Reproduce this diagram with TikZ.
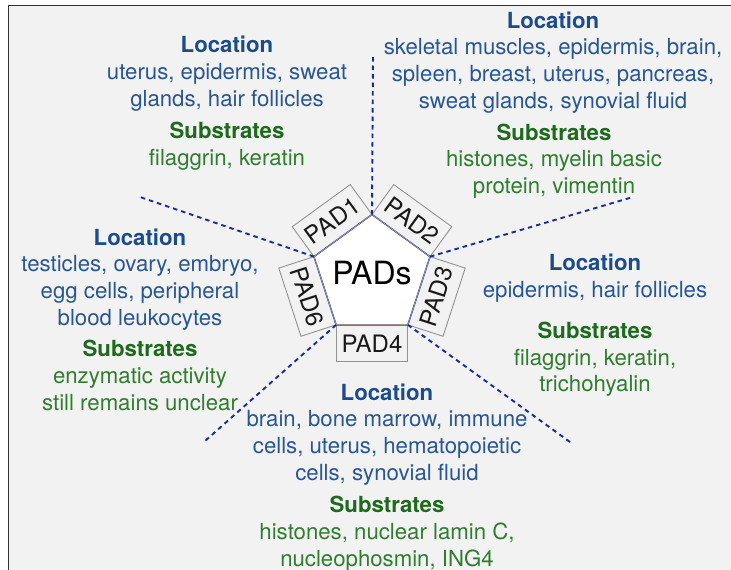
\documentclass[tikz,border=0pt]{standalone}
\usepackage{fontspec}
\setmainfont{TeX Gyre Heros}
\usetikzlibrary{calc}

\definecolor{locblue}{HTML}{285692}
\definecolor{lochead}{HTML}{1B4B8B}
\definecolor{subgreen}{HTML}{2F7D2F}
\definecolor{subhead}{HTML}{1D6A1D}
\definecolor{padblue}{HTML}{1F30A0}
\definecolor{dashblue}{HTML}{1A2A9C}
\definecolor{panelgray}{HTML}{F2F2F2}

\begin{document}
\begin{tikzpicture}[x=1pt, y=-1pt,
        txt/.style = {align=center, inner sep=0pt, anchor=base, font=\fontsize{22.2}{26.6}\selectfont}, % base = last line
        loc/.style = {txt, text=locblue},
        sub/.style = {txt, text=subgreen},
        padbox/.style = {rectangle, draw=gray!85, line width=0.9pt, minimum width=71.7pt, minimum height=37pt, inner sep=0pt, font=\fontsize{24}{24}\selectfont, text=black!90},
        spoke/.style = {draw=dashblue, line width=1.9pt, dash pattern=on 4.5pt off 4pt} % short dashes
    ]
        % Panel
        \useasboundingbox (0,0) rectangle (731,570);
        \fill [panelgray] (8.5,5.5) rectangle (731,570);
        \draw [black!80, line width=1.5pt] (8.5,570) -- (8.5,5.5) -- (731,5.5);

        % Centre pentagon
        \coordinate (c) at (372,275.5);
        \foreach \a [count=\i] in {-90,-162,126,54,-18}
            \coordinate (v\i) at ($(c)+(\a:61)$);
        \draw [padblue, line width=1.4pt, fill=white] (v1) -- (v2) -- (v3) -- (v4) -- (v5) -- cycle;
        \node [font=\fontsize{32}{32}\selectfont, inner sep=0pt] (pads) at ($(c)+(0,-2)$) {PADs};

        % Boxes on the sides
        \node [padbox, rotate=36] (pad1) at ($(c)+(-126:67.85)$) {PAD1};
        \node [padbox, rotate=-72] (pad6) at ($(c)+(162:67.85)$) {PAD6};
        \node [padbox] (pad4) at ($(c)+(90:67.85)$) {PAD4};
        \node [padbox, rotate=72] (pad3) at ($(c)+(18:67.85)$) {PAD3};
        \node [padbox, rotate=-36] (pad2) at ($(c)+(-54:67.85)$) {PAD2};

        % Spoke ends
        \coordinate (tip1) at (373,55);
        \coordinate (tip2) at (140,197);
        \coordinate (tip3) at (205,441);
        \coordinate (tip4) at (570,442);
        \coordinate (tip5) at (633,197);

        % Spokes
        \foreach \i in {1,...,5}
            \draw [spoke] (v\i) -- (tip\i);

        % Texts
        \node [loc] (loc1) at (227,106) {\textcolor{lochead}{\bfseries Location}\\uterus, epidermis, sweat\\glands, hair follicles};
        \node [sub] (sub1) at (227,165) {\textcolor{subhead}{\bfseries Substrates}\\filaggrin, keratin};

        \node [loc] (loc2) at (553,108) {\textcolor{lochead}{\bfseries Location}\\skeletal muscles, epidermis, brain,\\spleen, breast, uterus, pancreas,\\sweat glands, synovial fluid};
        \node [sub] (sub2) at (554,193.5) {\textcolor{subhead}{\bfseries Substrates}\\histones, myelin basic\\protein, vimentin};

        \node [loc] (loc3) at (595,297.5) {\textcolor{lochead}{\bfseries Location}\\epidermis, hair follicles};
        \node [sub] (sub3) at (595,391.7) {\textcolor{subhead}{\bfseries Substrates}\\filaggrin, keratin,\\trichohyalin};

        \node [loc] (loc4) at (387,480) {\textcolor{lochead}{\bfseries Location}\\brain, bone marrow, immune\\cells, uterus, hematopoietic\\cells, synovial fluid};
        \node [sub] (sub4) at (387,566) {\textcolor{subhead}{\bfseries Substrates}\\histones, nuclear lamin C,\\nucleophosmin, ING4};

        \node [loc] (loc6) at (140,325) {\textcolor{lochead}{\bfseries Location}\\testicles, ovary, embryo,\\egg cells, peripheral\\blood leukocytes};
        \node [sub] (sub6) at (140,410) {\textcolor{subhead}{\bfseries Substrates}\\enzymatic activity\\still remains unclear};
    \end{tikzpicture}
\end{document}
